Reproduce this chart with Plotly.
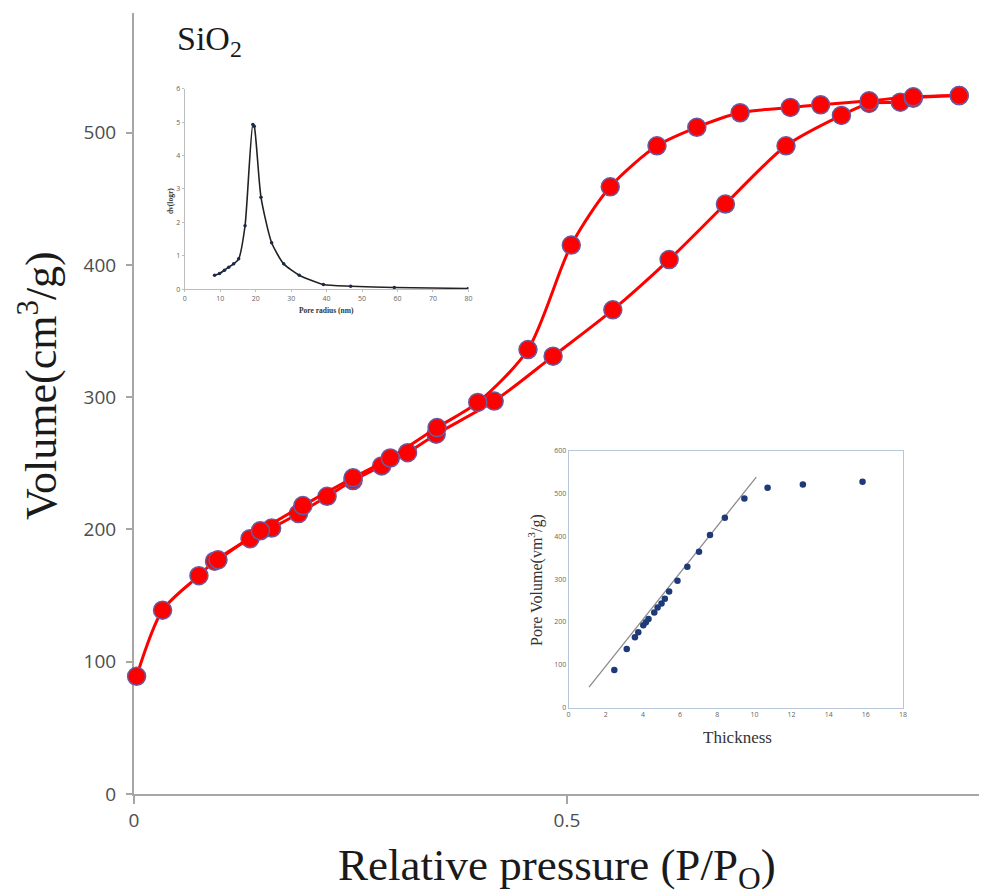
import plotly.graph_objects as go

# Main isotherm (relative pressure vs adsorbed volume)
ads_x = [0.003, 0.033, 0.075, 0.093, 0.134, 0.159, 0.190, 0.223, 0.253, 0.286, 0.316, 0.349,
         0.416, 0.484, 0.553, 0.618, 0.683, 0.753, 0.817, 0.849, 0.885, 0.900, 0.953]
ads_y = [89, 139, 165, 176, 193, 201, 212, 225, 237, 248, 258, 272,
         297, 331, 366, 404, 446, 490, 513, 522, 523, 526, 528]
des_x = [0.953, 0.900, 0.849, 0.793, 0.758, 0.700, 0.650, 0.604, 0.550, 0.505, 0.455, 0.397,
         0.350, 0.296, 0.253, 0.195, 0.146, 0.097]
des_y = [528, 527, 524, 521, 519, 515, 504, 490, 459, 415, 336, 296,
         277, 254, 239, 218, 199, 177]

# Inset 1: pore size distribution
psd_x = [8.4, 9.8, 11.2, 12.4, 13.8, 15.2, 17.0, 19.2, 19.6, 21.5, 24.5, 27.9, 32.3, 39.1, 46.8, 59.1, 80]
psd_y = [0.42, 0.47, 0.57, 0.66, 0.76, 0.91, 1.9, 4.93, 4.88, 2.75, 1.39, 0.76, 0.42, 0.14, 0.09, 0.05, 0.02]

# Inset 2: t-plot
t_x = [2.46, 3.13, 3.57, 3.75, 4.02, 4.16, 4.30, 4.61, 4.79, 5.0, 5.18, 5.41, 5.86, 6.39, 7.02,
       7.61, 8.41, 9.46, 10.71, 12.61, 15.82]
t_y = [88, 137, 164, 176, 192, 199, 207, 222, 234, 243, 254, 271, 296, 329, 364,
       403, 443, 488, 513, 521, 527]
fit_x = [1.1, 10.1]
fit_y = [48, 538]

RED = "#ff0000"
mk = dict(size=18, color=RED, line=dict(color="#6a5a9e", width=1.5))

fig = go.Figure()
fig.add_trace(go.Scatter(x=ads_x, y=ads_y, mode="lines+markers",
                         line=dict(color=RED, width=3, shape="spline", smoothing=0.8),
                         marker=mk, cliponaxis=False, showlegend=False))
fig.add_trace(go.Scatter(x=des_x, y=des_y, mode="lines+markers",
                         line=dict(color=RED, width=3, shape="spline", smoothing=0.8),
                         marker=mk, cliponaxis=False, showlegend=False))

fig.add_trace(go.Scatter(x=psd_x, y=psd_y, mode="lines+markers", xaxis="x2", yaxis="y2",
                         line=dict(color="#222222", width=1.6, shape="spline", smoothing=0.6),
                         marker=dict(size=3.5, color="#1a2a4a"), showlegend=False))

fig.add_trace(go.Scatter(x=fit_x, y=fit_y, mode="lines", xaxis="x3", yaxis="y3",
                         line=dict(color="#8c8c8c", width=1.3), showlegend=False))
fig.add_trace(go.Scatter(x=t_x, y=t_y, mode="markers", xaxis="x3", yaxis="y3",
                         marker=dict(size=6.5, color="#1f3a78"), showlegend=False))

AX = "#a6a6a6"
tickfont = dict(family="Open Sans, DejaVu Sans, sans-serif", size=19, color="#4d4d4d")
small = dict(family="Open Sans, DejaVu Sans, sans-serif", size=7, color="#666666")
serif = "Liberation Serif, Times New Roman, serif"

fig.update_layout(
    width=979, height=888,
    margin=dict(l=126, r=0, t=2, b=102),
    paper_bgcolor="white", plot_bgcolor="white",
    xaxis=dict(range=[0, 0.9805], tickvals=[0, 0.5], ticktext=["0", "0.5"], showgrid=False,
               zeroline=False, showline=True, linecolor=AX, linewidth=2, ticks="outside",
               ticklen=8, tickwidth=1.5, tickcolor=AX, tickfont=tickfont, layer="below traces"),
    yaxis=dict(range=[0, 590.4], tickvals=[0, 100, 200, 300, 400, 500], showgrid=False,
               zeroline=False, showline=True, linecolor=AX, linewidth=2, ticks="outside",
               ticklen=6, tickwidth=1.5, tickcolor=AX, tickfont=tickfont, layer="below traces",
               ticklabelstandoff=6),
    xaxis2=dict(domain=[0.0598, 0.3939], anchor="y2", range=[0, 80], dtick=10, showgrid=False,
                zeroline=False, showline=True, linecolor="#bdbdbd", linewidth=1, ticks="outside",
                ticklen=2, tickcolor="#bdbdbd", tickfont=small),
    yaxis2=dict(domain=[0.6463, 0.903], anchor="x2", range=[0, 6], dtick=1, showgrid=False,
                zeroline=False, showline=True, linecolor="#bdbdbd", linewidth=1, ticks="outside",
                ticklen=2, tickcolor="#bdbdbd", tickfont=small),
    xaxis3=dict(domain=[0.5119, 0.9058], anchor="y3", range=[0, 18], dtick=2, showgrid=False,
                zeroline=False, showline=True, mirror=True, linecolor="#b7c6db", linewidth=1,
                ticks="", tickfont=small),
    yaxis3=dict(domain=[0.1106, 0.4397], anchor="x3", range=[0, 600], dtick=100, showgrid=False,
                zeroline=False, showline=True, mirror=True, linecolor="#b7c6db", linewidth=1,
                ticks="", tickfont=small),
    annotations=[
        dict(text="Relative pressure (P/P<sub>O</sub>)", xref="paper", yref="paper",
             x=0.498, y=-0.0944, xanchor="center", yanchor="middle", showarrow=False,
             font=dict(family=serif, size=45, color="#1a1a1a")),
        dict(text="Volume(cm<sup>3</sup>/g)", xref="paper", yref="paper",
             x=-0.1125, y=0.523, xanchor="center", yanchor="middle", showarrow=False,
             textangle=-90, font=dict(family=serif, size=44, color="#1a1a1a")),
        dict(text="SiO<sub>2</sub>", xref="paper", yref="paper", x=0.048, y=0.964,
             xanchor="left", yanchor="middle", showarrow=False,
             font=dict(family=serif, size=34, color="#1a1a1a")),
        dict(text="<b>Pore radius (nm)</b>", xref="paper", yref="paper", x=0.2263, y=0.6186,
             xanchor="center", yanchor="middle", showarrow=False,
             font=dict(family=serif, size=7.5, color="#333333")),
        dict(text="<b>dv(logr)</b>", xref="paper", yref="paper", x=0.0422, y=0.759,
             xanchor="center", yanchor="middle", showarrow=False, textangle=-90,
             font=dict(family=serif, size=7.5, color="#333333")),
        dict(text="Thickness", xref="paper", yref="paper", x=0.7104, y=0.0727,
             xanchor="center", yanchor="middle", showarrow=False,
             font=dict(family=serif, size=17, color="#333333")),
        dict(text="Pore Volume(vm<sup>3</sup>/g)", xref="paper", yref="paper", x=0.4736, y=0.2742,
             xanchor="center", yanchor="middle", showarrow=False, textangle=-90,
             font=dict(family=serif, size=16, color="#333333")),
    ],
)

fig.write_html("out.html")
